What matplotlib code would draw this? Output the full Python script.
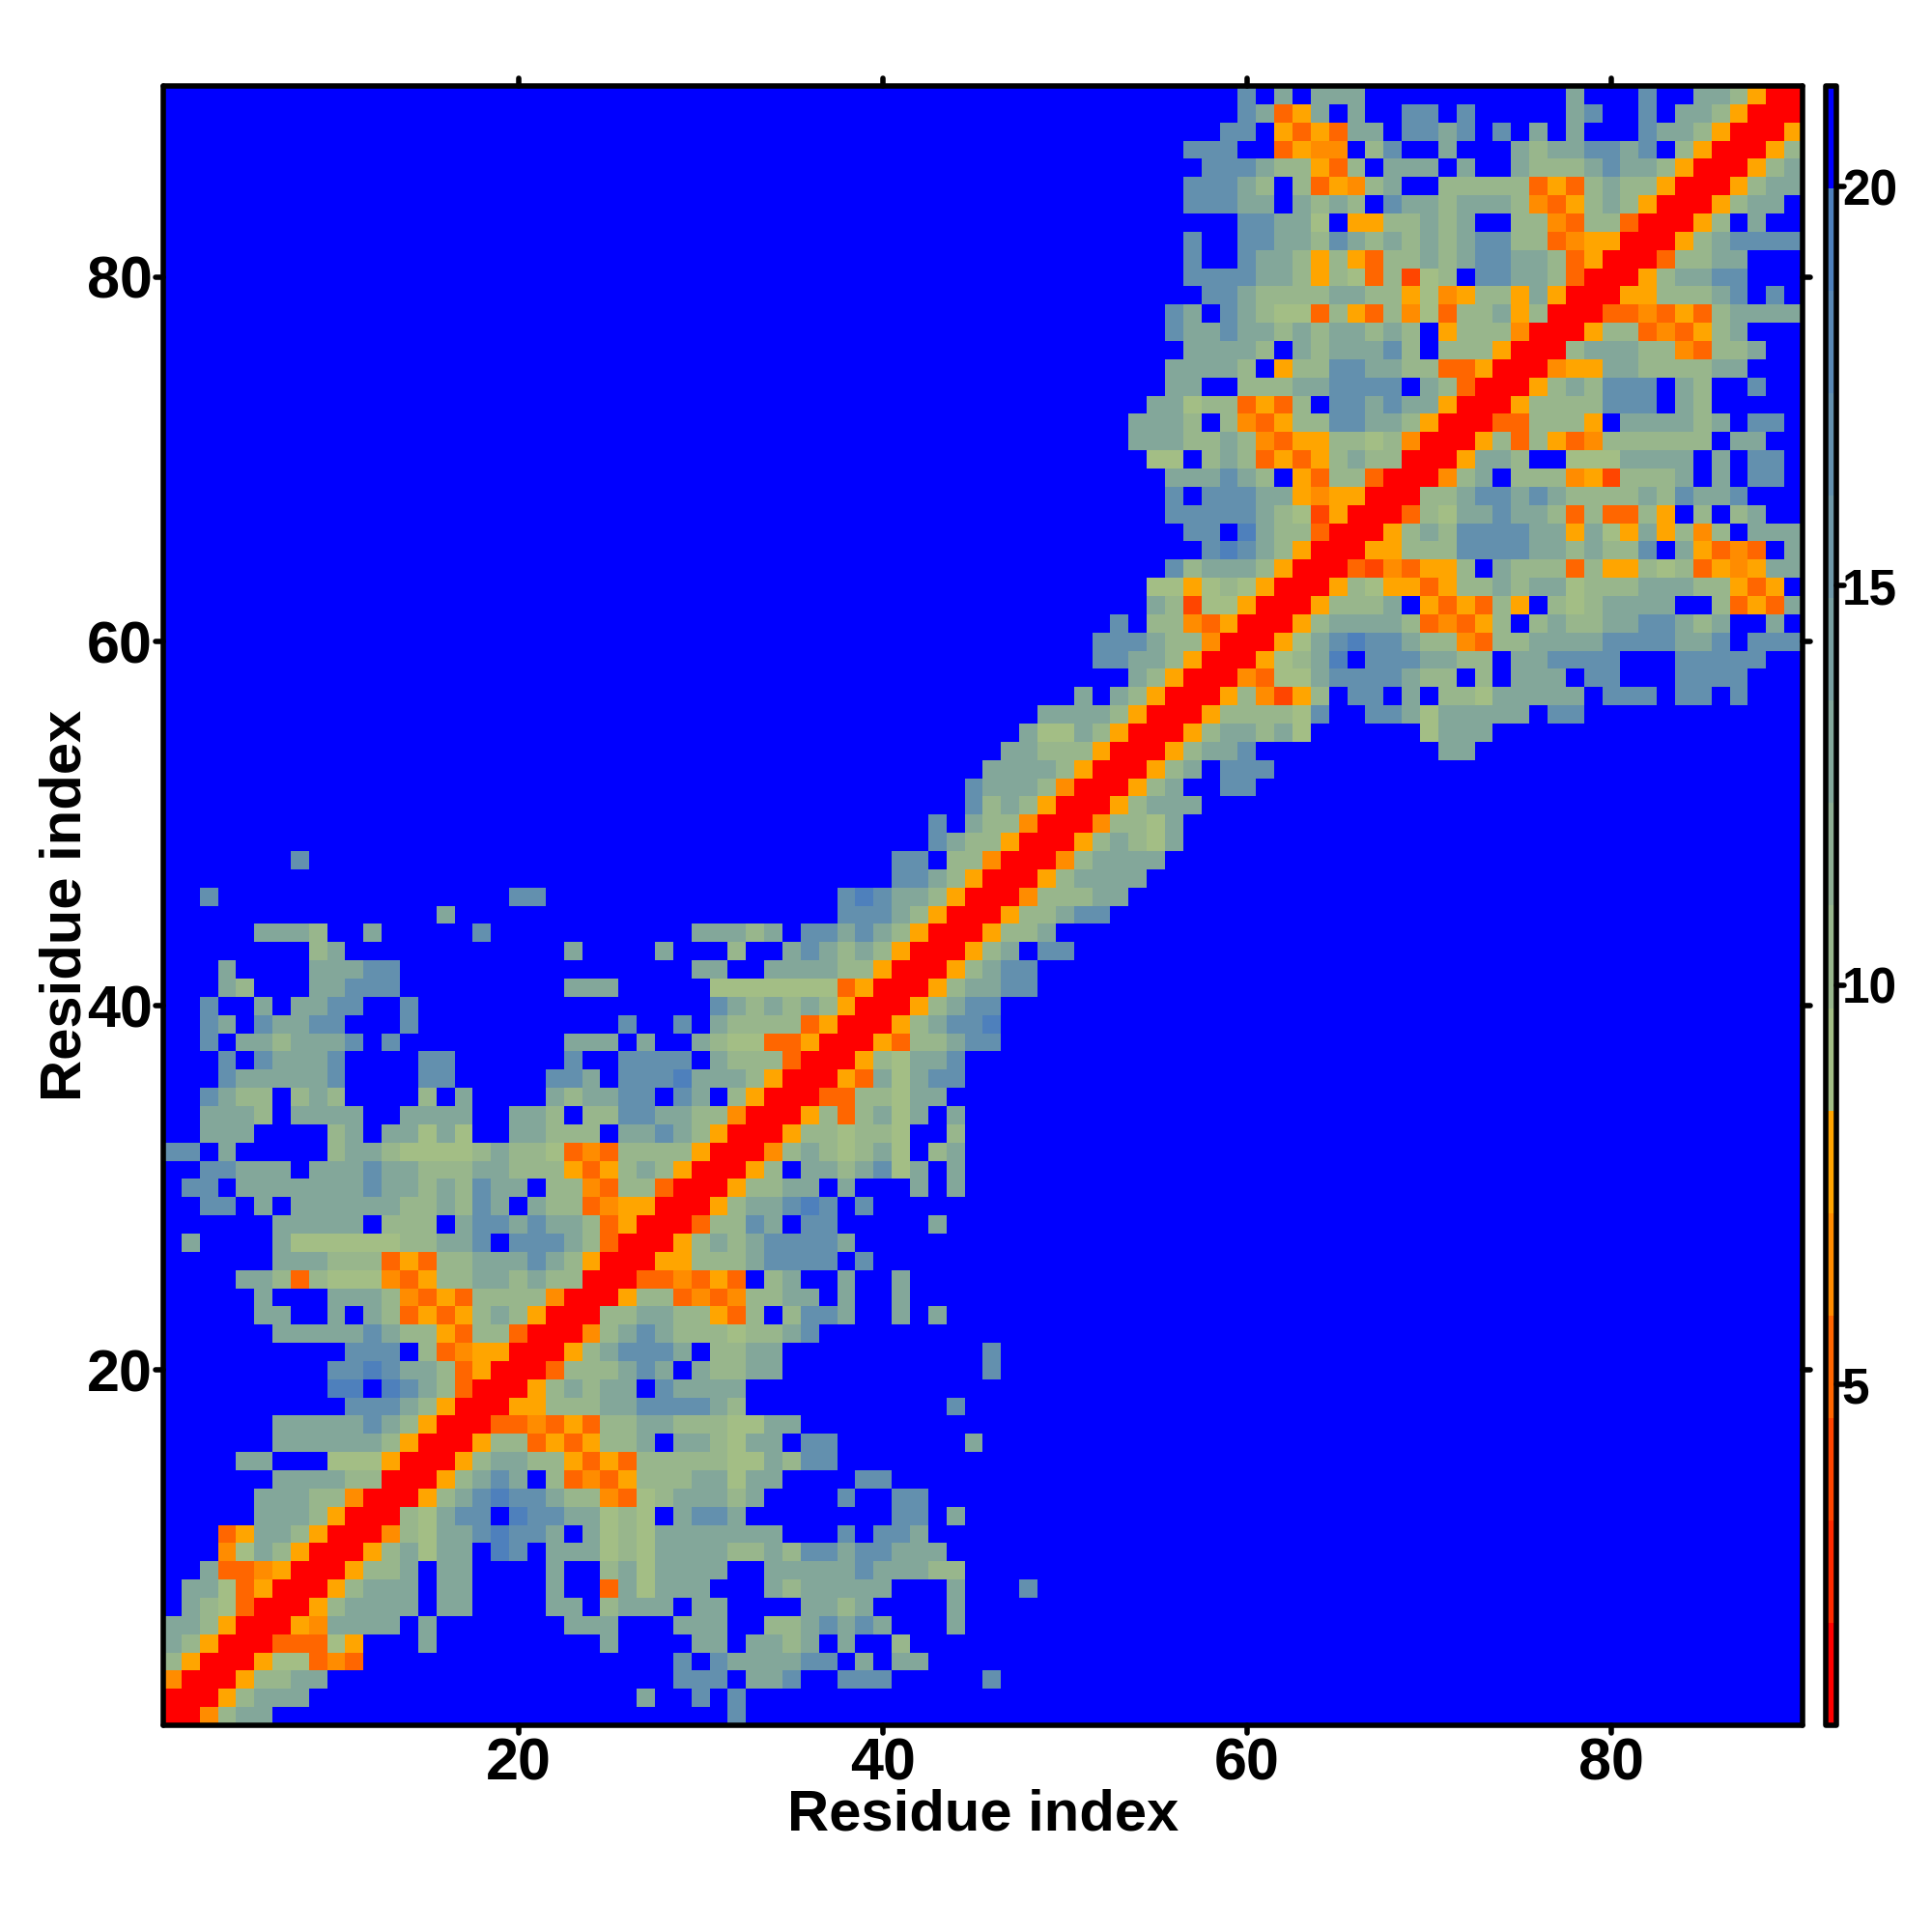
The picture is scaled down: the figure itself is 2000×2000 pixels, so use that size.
import numpy as np
import matplotlib
matplotlib.use("Agg")
import matplotlib.pyplot as plt
from matplotlib.colors import ListedColormap, BoundaryNorm, to_hex
from matplotlib.markers import MarkerStyle

plt.rcParams["font.family"] = ["Liberation Sans", "DejaVu Sans"]
plt.rcParams["font.weight"] = "bold"

# one string per residue, read off the picture up to the diagonal (map is symmetric)
# each letter is a colour band of the key, "." is the blue "no contact" band
map_rows = [
    "R", "RR", "ORR", "cyRR", "ecyRR", "eecyRR", "ecaoRR", "eeaoyRR", "eooOyRR", "OaecyRR",
    "oyeecyRR", "eeecyRR", "eeeccORR", "eeeeccRR", "ee...aaayRR", "eeeeeecyRR", "eeeeegecyRR",
    "gggecyRR", "ii.igecoRR", "ggigeecoyRR", "ggg.coOyyRR", "eeeeegeccyoccoRR",
    "ee..e.ecoyoycecyRR", "e...eeecOoyoccccORR", "eecocaaaOoycceececcRR",
    "eeecccoyocceeegecyRR", "e....eaaaaaacceeg.gggecoRR", "eeeee.ccc.eggegeecoyRR",
    "gg.e.eeeeeeccecge.eccoOyyRR", "gg.eeeeeeegeececgee.ccOoccoRR",
    "ggeee.eeegeeccceecccyoycecyRR", "gg.e.....ceecaaaaceccaoOoccccyRR",
    "eee....ce.eeaea..eeccc.eegecyRR", "eeec.eeee..eeee..eec.ccggeeccORR",
    "gecc.cec....c.e....eceegg.ge.cyRR", "geeeeeg....gg.....gge.gggieeecyRR",
    "g.geeeg....gg......g..gggg.ecccoRR", "g.eeceeeg.g.........eee.e..ecaaooyRR",
    "ge.geegg...g...........g..g.eccccoyRR", "g..e.eegg..g................gecececyRR",
    "ec...eeggg.........eee.....aaaaaaaoyRR", "e....eeegg................ee..eeeeccyRR",
    "ce............e....e...c..egececyRR", "eeec..e.....g...........eeece.ggegecyRR",
    "e.....................gggecyRR", "g................gg................gigeecyRR",
    "ggecyRR", "g................................gg.ccORR", "geccyRR", "g.eccORR",
    "gcecyRR", "geeecORR", "eeeecyRR", "eecccyRR", "eaaecyRR", "eeeecyRR", "e.ecyRR", "ecyRR",
    "ggeecyRR", "gggeccORR", "g.ccOoyRR", "ecdaayRR", "aayacayRR", "gceeecyRR", "gigecyRR",
    "gg.ieccoRR", "gggggecadyRR", "g.gggeeyOyyRR", "eeegec.yoccoRR", "aa.cecoyoyceccRR",
    "eeeccecOoyyccacORR", "eeec.cOoyccggeecyRR", "eeaccoyoc.ggegeeyRR", "ee..ccceegggg.ecoRR",
    "eeeec.yccggeeccooyRR", "eeeec.eceeegc.cccyRR", "geegeececeecec.ycccORR",
    "ge.gecaaocyocOaocceycRR", "ggecccceeccyaOyccyeyRR", "ggggeecycaocdac.ggeecoRR",
    "g..geecycyocceceggeecoyRR", "g..ggeecgecececeggccoOyyRR", "ggeea.yyccece..ccOoccoRR",
    "gggee.ecec.geeceeecOoycecyRR", "gggec.coyOce..cccccoyoceccyRR",
    "gggeccyoc.eee.e..ecccegeecyRR", "ggg..oyOO.cg..e...eceeggeg.cyRR",
    "gg.yoyoee.ggeg.g.e.e...geecyRR", "geoye.e..gg.g.....eg..g.eecyRR",
    "g.e.eee...........e...g..eecyRR",
]

# band number of each letter in the key
band_of = {"R": 0, "d": 2, "o": 3, "O": 4, "y": 5, "a": 6, "c": 7, "e": 9, "g": 12, "i": 14, ".": 15}

hot_colors = ["#FF0000", "#FF2A00", "#FF4500", "#FF6600", "#FF8C00", "#FFA500"]
sage = np.array([163, 190, 133]) / 255
steel = np.array([78, 128, 188]) / 255
mid_colors = [to_hex(sage + (steel - sage) * k / 8) for k in range(9)]
colors = hot_colors + mid_colors + ["#0000FF"]

key_min = 0.73
key_max = 21.26
key_ticks = [5, 10, 15, 20]
residue_ticks = [20, 40, 60, 80]

n = len(map_rows)
bounds = np.linspace(key_min, key_max, len(colors) + 1)
centers = (bounds[:-1] + bounds[1:]) / 2

dist = np.full((n, n), centers[-1])
for j, row in enumerate(map_rows):
    row = row.rjust(j + 1, ".")[-(j + 1):]
    for i, ch in enumerate(row):
        dist[j, i] = centers[band_of[ch]]
        dist[i, j] = centers[band_of[ch]]

cmap = ListedColormap(colors)
norm = BoundaryNorm(bounds, cmap.N)


def round_ticks(axis):
    # rounded tick ends like the original device
    for tick in axis.get_major_ticks():
        for line in (tick.tick1line, tick.tick2line):
            line.set_marker(MarkerStyle(line.get_marker(), capstyle="round"))


fig = plt.figure(figsize=(10, 10), dpi=200)
ax = fig.add_axes([169 / 2000, 1 - 1786 / 2000, 1697 / 2000, 1697 / 2000])
im = ax.imshow(dist, origin="lower", cmap=cmap, norm=norm, aspect="auto",
               interpolation="nearest", extent=[0.5, n + 0.5, 0.5, n + 0.5])

ax.set_xticks(residue_ticks)
ax.set_yticks(residue_ticks)
ax.tick_params(top=True, right=True, length=3, width=2, labelsize=22)
ax.tick_params(axis="x", pad=1.5)
ax.tick_params(axis="y", pad=1)
ax.set_xlabel("Residue index", fontsize=21.5, fontweight="bold", labelpad=-1.5)
ax.set_ylabel("Residue index", fontsize=21.5, fontweight="bold", labelpad=-2)
round_ticks(ax.xaxis)
round_ticks(ax.yaxis)
for s in ax.spines.values():
    s.set_linewidth(2)
    s.set_capstyle("round")
    s.set_joinstyle("round")

cax = fig.add_axes([1889.5 / 2000, 1 - 1786 / 2000, 11.7 / 2000, 1697 / 2000])
cb = fig.colorbar(im, cax=cax, spacing="proportional", ticks=key_ticks)
cb.ax.tick_params(length=3, width=2, labelsize=18.5, pad=-1)
cb.outline.set_linewidth(2)
cb.outline.set_joinstyle("round")
cb.minorticks_off()
round_ticks(cb.ax.yaxis)

plt.savefig("out.png", dpi=200)
